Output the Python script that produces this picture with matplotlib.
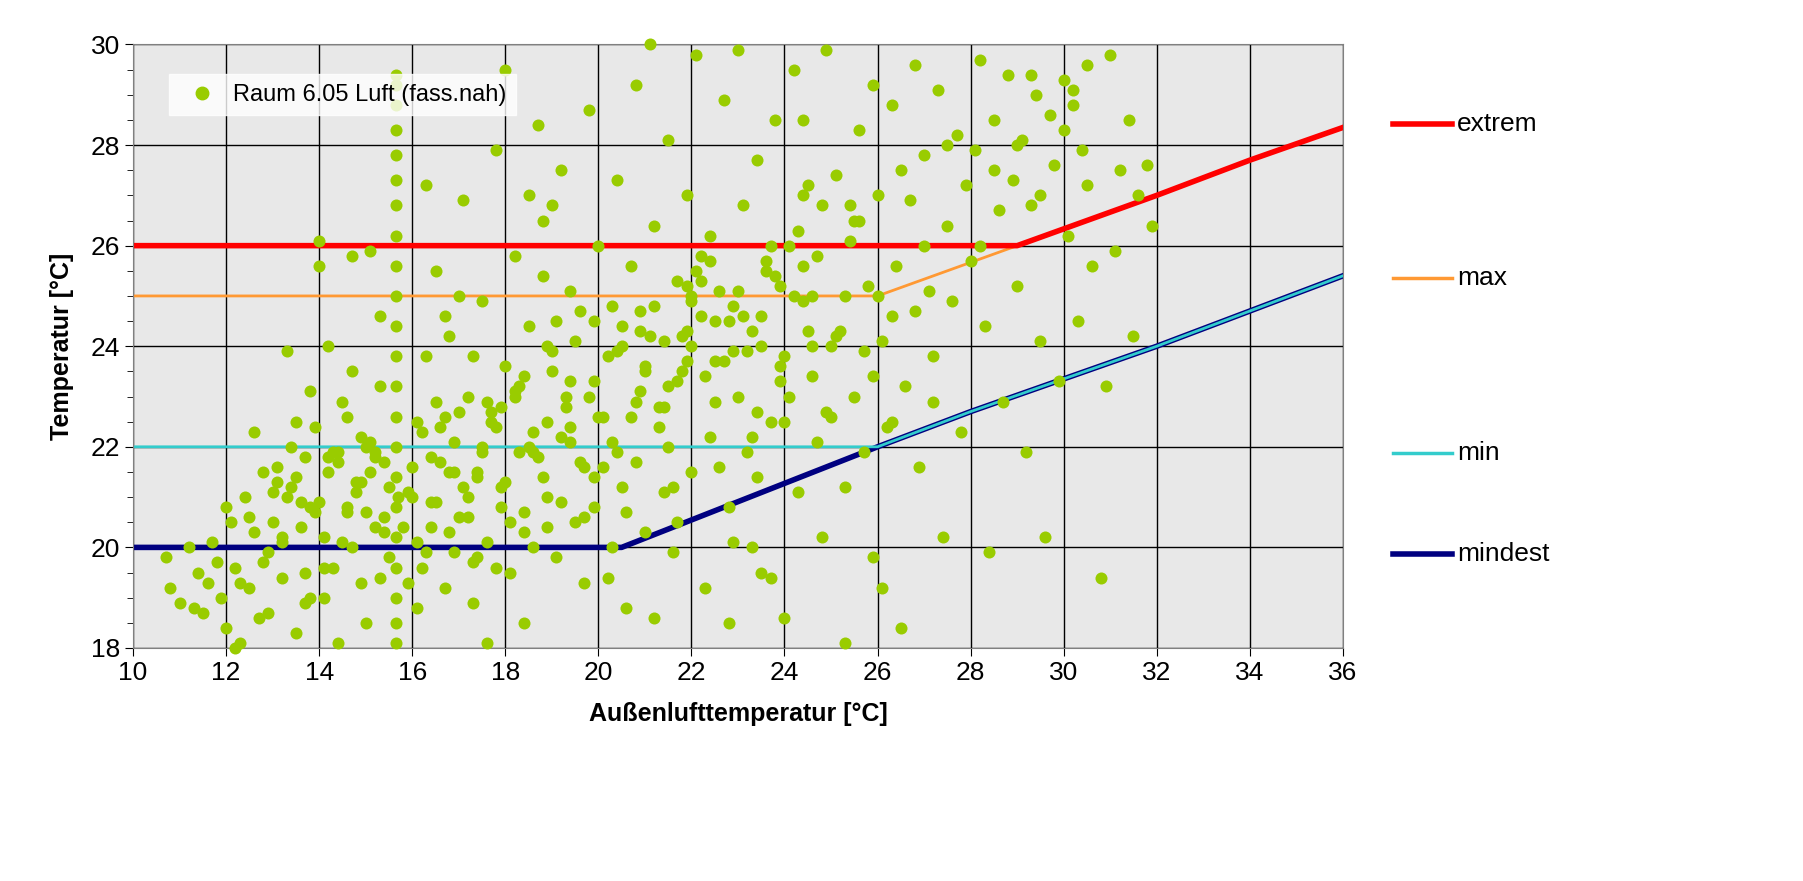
import numpy as np
import matplotlib
matplotlib.use("Agg")
import matplotlib.pyplot as plt
from matplotlib.lines import Line2D

plt.rcParams["font.family"] = "Liberation Sans"

pts_x = [10.7,10.8,11.0,11.2,11.4,11.5,11.7,11.9,12.0,12.1,12.2,12.3,12.4,12.5,12.6,12.7,12.8,12.9,11.3,11.8,12.2,12.6,12.0,11.6,
13.0,13.1,13.2,13.3,13.4,13.5,13.6,13.7,13.8,13.9,14.0,14.0,14.1,14.2,14.3,14.4,14.5,14.6,14.7,14.8,14.9,15.0,15.1,15.2,15.3,15.4,15.5,15.0,14.2,13.5,14.7,15.3,13.2,13.9,14.4,15.4,13.7,14.9,14.1,13.4,15.2,14.6,13.8,
15.65,15.65,15.65,15.65,15.65,15.65,15.65,15.65,15.65,15.65,15.65,15.65,15.65,15.65,15.65,15.65,15.65,15.65,15.65,15.65,15.65,15.65,
16.0,16.1,16.2,16.3,16.4,16.5,16.6,16.7,16.8,16.9,17.0,17.1,17.2,17.3,17.4,17.5,17.6,17.7,17.8,17.9,18.0,18.1,18.2,18.3,18.4,18.5,18.6,18.7,18.8,18.9,19.0,19.1,19.2,19.3,19.4,19.5,19.6,19.7,19.8,19.9,20.0,16.3,17.0,18.0,18.5,19.0,16.8,17.5,18.2,18.9,19.4,17.2,16.5,18.6,19.7,17.8,16.1,17.6,18.4,19.2,19.9,18.8,17.3,16.7,
20.1,20.2,20.3,20.4,20.5,20.6,20.7,20.8,20.9,21.0,21.1,21.2,21.3,21.4,21.5,21.6,21.7,21.8,21.9,22.0,22.1,22.2,22.3,22.4,22.5,22.6,22.7,22.8,22.9,23.0,23.1,23.2,23.3,23.4,23.5,23.6,23.7,23.8,23.9,24.0,24.1,24.2,24.3,24.4,24.5,20.5,21.0,21.5,22.0,22.5,23.0,23.5,24.0,20.8,21.7,22.8,21.2,22.2,22.0,21.9,23.3,20.3,23.7,
24.6,24.7,24.8,24.9,25.0,25.1,25.2,25.3,25.4,25.5,25.6,25.7,25.8,25.9,26.0,26.1,26.2,26.3,26.4,26.5,26.6,26.7,26.8,26.9,27.0,27.1,27.2,27.3,27.4,27.5,27.6,27.7,27.8,27.9,28.0,24.6,25.0,25.5,26.0,26.5,27.0,25.3,26.1,24.4,25.9,26.8,27.5,24.8,25.7,26.3,27.2,
28.1,28.2,28.3,28.4,28.5,28.6,28.7,28.8,28.9,29.0,29.1,29.2,29.3,29.4,29.5,29.6,29.7,29.8,29.9,30.0,30.1,30.2,30.3,30.4,30.5,30.6,30.8,30.9,31.0,31.1,31.2,31.4,31.5,31.6,31.8,31.9,28.5,29.0,29.5,30.0,30.5,28.2,29.3,30.2,
# dense core
12.3,12.5,12.8,13.0,13.2,13.5,13.7,14.0,14.2,14.5,14.8,15.0,15.2,15.5,15.8,16.0,16.2,16.5,16.8,17.0,17.2,17.5,17.8,18.0,18.2,18.5,18.8,19.0,19.2,19.5,19.8,20.0,20.2,20.5,20.8,21.0,21.2,21.5,21.8,22.0,22.2,22.5,22.8,23.0,23.2,23.5,23.8,24.0,24.2,24.5,
12.9,13.3,13.6,14.1,14.4,14.7,15.1,15.4,15.9,16.3,16.6,16.9,17.3,17.6,17.9,18.3,18.6,18.9,19.3,19.6,19.9,20.3,20.6,20.9,21.3,21.6,21.9,22.3,22.6,22.9,23.3,23.6,23.9,24.3,24.6,24.9,25.3,25.6,25.9,26.3,
13.1,13.8,14.3,14.9,15.3,15.7,16.1,16.4,16.7,17.1,17.4,17.7,18.1,18.4,18.7,19.1,19.4,19.7,20.1,20.4,20.7,21.1,21.4,21.7,22.1,22.4,22.7,23.1,23.4,23.7,24.1,24.4,24.7,25.1,25.4,
14.6,15.1,15.9,16.4,16.9,17.4,17.9,18.4,18.9,19.4,19.9,20.4,20.9,21.4,21.9,22.4,22.9,23.4,23.9,24.4]
pts_y = [19.8,19.2,18.9,20.0,19.5,18.7,20.1,19.0,18.4,20.5,19.6,18.1,21.0,19.2,20.3,18.6,21.5,19.9,18.8,19.7,18.0,22.3,20.8,19.3,
20.5,21.6,19.4,23.9,22.0,18.3,20.9,21.8,19.0,22.4,26.1,25.6,20.2,21.5,19.6,18.1,22.9,20.8,23.5,21.1,19.3,22.0,25.9,20.4,23.2,21.7,19.8,18.5,24.0,22.5,25.8,24.6,20.1,20.7,21.9,20.6,18.9,21.3,19.0,21.2,21.8,22.6,23.1,
18.1,18.5,19.0,19.6,20.2,20.8,21.4,22.0,22.6,23.2,23.8,24.4,25.0,25.6,26.2,26.8,27.3,27.8,28.3,28.8,29.2,29.4,
21.0,22.5,19.6,23.8,20.4,25.5,21.7,19.2,24.2,22.1,20.6,26.9,23.0,18.9,21.5,24.9,20.1,22.7,27.9,21.2,23.6,19.5,25.8,21.9,20.7,24.4,22.3,28.4,26.5,21.0,23.9,19.8,27.5,22.8,25.1,20.5,24.7,21.6,28.7,23.3,26.0,27.2,25.0,29.5,27.0,26.8,20.3,22.0,23.0,24.0,22.1,21.0,22.9,20.0,19.3,19.6,18.8,18.1,18.5,20.9,21.4,25.4,23.8,24.6,
22.6,19.4,24.8,27.3,21.2,18.8,25.6,29.2,23.1,20.3,30.0,26.4,22.4,24.1,28.1,19.9,25.3,23.5,27.0,21.5,29.8,24.6,19.2,26.2,22.9,25.1,28.9,20.8,23.9,29.9,26.8,21.9,24.3,27.7,19.5,25.5,22.5,28.5,23.6,18.6,26.0,29.5,21.1,24.9,27.2,24.0,23.5,22.0,24.0,24.5,23.0,24.0,22.5,21.7,20.5,18.5,18.6,25.8,25.0,24.3,20.0,20.0,19.4,
23.4,25.8,20.2,29.9,22.6,27.4,24.3,18.1,26.1,23.0,28.3,21.9,25.2,19.8,27.0,24.1,22.4,28.8,25.6,18.4,23.2,26.9,24.7,21.6,27.8,25.1,23.8,29.1,20.2,26.4,24.9,28.2,22.3,27.2,25.7,25.0,24.0,26.5,25.0,27.5,26.0,21.2,19.2,28.5,29.2,29.6,28.0,26.8,23.9,22.5,22.9,
27.9,29.7,24.4,19.9,28.5,26.7,22.9,29.4,27.3,25.2,28.1,21.9,26.8,29.0,24.1,20.2,28.6,27.6,23.3,29.3,26.2,28.8,24.5,27.9,29.6,25.6,19.4,23.2,29.8,25.9,27.5,28.5,24.2,27.0,27.6,26.4,27.5,28.0,27.0,28.3,27.2,26.0,29.4,29.1,
19.3,20.6,19.7,21.1,20.2,21.4,19.5,20.9,21.8,20.1,21.3,20.7,21.9,21.2,20.4,21.6,22.3,20.9,21.5,22.7,20.6,21.9,22.4,21.3,23.1,22.0,21.4,23.5,22.2,24.1,23.0,22.6,23.8,24.4,22.9,23.6,24.8,23.2,24.2,24.9,25.3,23.7,24.5,25.1,23.9,24.6,25.4,23.8,25.0,24.3,
18.7,21.0,20.4,19.6,21.7,20.0,22.1,20.3,21.1,19.9,22.4,21.5,19.7,22.9,20.8,23.2,21.9,20.4,23.0,21.7,24.5,22.1,20.7,24.3,22.8,21.2,25.2,23.4,21.6,24.8,22.2,25.7,23.3,26.3,24.0,22.7,25.0,26.5,23.4,24.6,
21.3,20.8,21.9,22.2,19.4,21.0,20.1,21.8,22.6,21.2,19.8,22.5,20.5,23.4,21.8,24.5,22.4,20.6,21.6,23.9,22.6,24.2,21.1,23.3,25.5,22.2,23.7,24.6,21.4,26.0,23.0,25.6,22.1,24.2,26.8,
20.7,21.5,19.3,20.9,19.9,21.4,22.8,20.3,22.5,23.3,20.8,21.9,24.7,22.8,23.7,25.7,20.1,22.7,25.2,27.0]

# threshold curves (outdoor temp -> room temp)
ext_x = [10, 29, 32, 34, 36]; ext_y = [26, 26, 27.0, 27.7, 28.35]
max_x = [10, 26, 29]; max_y = [25, 25, 26]
min_x = [10, 26, 28, 30, 32, 34, 36]; min_y = [22, 22, 22.7, 23.35, 24.0, 24.7, 25.4]
mind_x = [10, 20.5, 26, 28, 30, 32, 34, 36]; mind_y = [20, 20, 22, 22.7, 23.35, 24.0, 24.7, 25.4]

fig = plt.figure(figsize=(18.03, 8.81), dpi=100)
ax = fig.add_axes([0.0738, 0.2645, 0.671, 0.685])
ax.set_facecolor("#e8e8e8")
ax.plot(mind_x, mind_y, color="#000080", lw=4, zorder=2)
ax.plot(min_x, min_y, color="#33cccc", lw=2, zorder=2.1)
ax.plot(max_x, max_y, color="#ff9933", lw=2, zorder=2)
ax.plot(ext_x, ext_y, color="#ff0000", lw=4, zorder=2)
ax.scatter(pts_x, pts_y, s=75, color="#99cc00", zorder=3, linewidths=0, clip_on=False)
ax.set_xlim(10, 36); ax.set_ylim(18, 30)
ax.set_xticks(range(10, 37, 2)); ax.set_yticks(range(18, 31, 2))
ax.set_yticks(np.arange(18, 30.01, 0.5), minor=True)
ax.grid(True, which="major", color="black", lw=1)
ax.set_axisbelow(True)
for s in ax.spines.values(): s.set_color("#808080")
ax.tick_params(labelsize=19, length=6, direction="out")
ax.tick_params(which="minor", length=4)
ax.set_xlabel("Außenlufttemperatur [°C]", fontsize=18, fontweight="bold", labelpad=12)
ax.set_ylabel("Temperatur [°C]", fontsize=18, fontweight="bold", labelpad=12)
leg = ax.legend([Line2D([], [], marker="o", ls="", color="#99cc00", ms=9)],
                ["Raum 6.05 Luft (fass.nah)"], loc="upper left", bbox_to_anchor=(0.02, 0.97),
                fontsize=17, frameon=True, facecolor="white", edgecolor="white", handletextpad=0.3)
leg.get_frame().set_boxstyle("square", pad=0)

items = [(124, "#ff0000", 4, "extrem"), (278, "#ff9933", 2.5, "max"),
         (453, "#33cccc", 2.5, "min"), (554, "#000080", 4, "mindest")]
for ypx, c, lw, lab in items:
    yf = 1 - ypx / 881
    fig.add_artist(Line2D([1393/1803, 1452/1803], [yf, yf], color=c, lw=lw))
    fig.text(1457/1803, yf, lab, fontsize=19, va="center")
fig.savefig("out.png", dpi=100)
